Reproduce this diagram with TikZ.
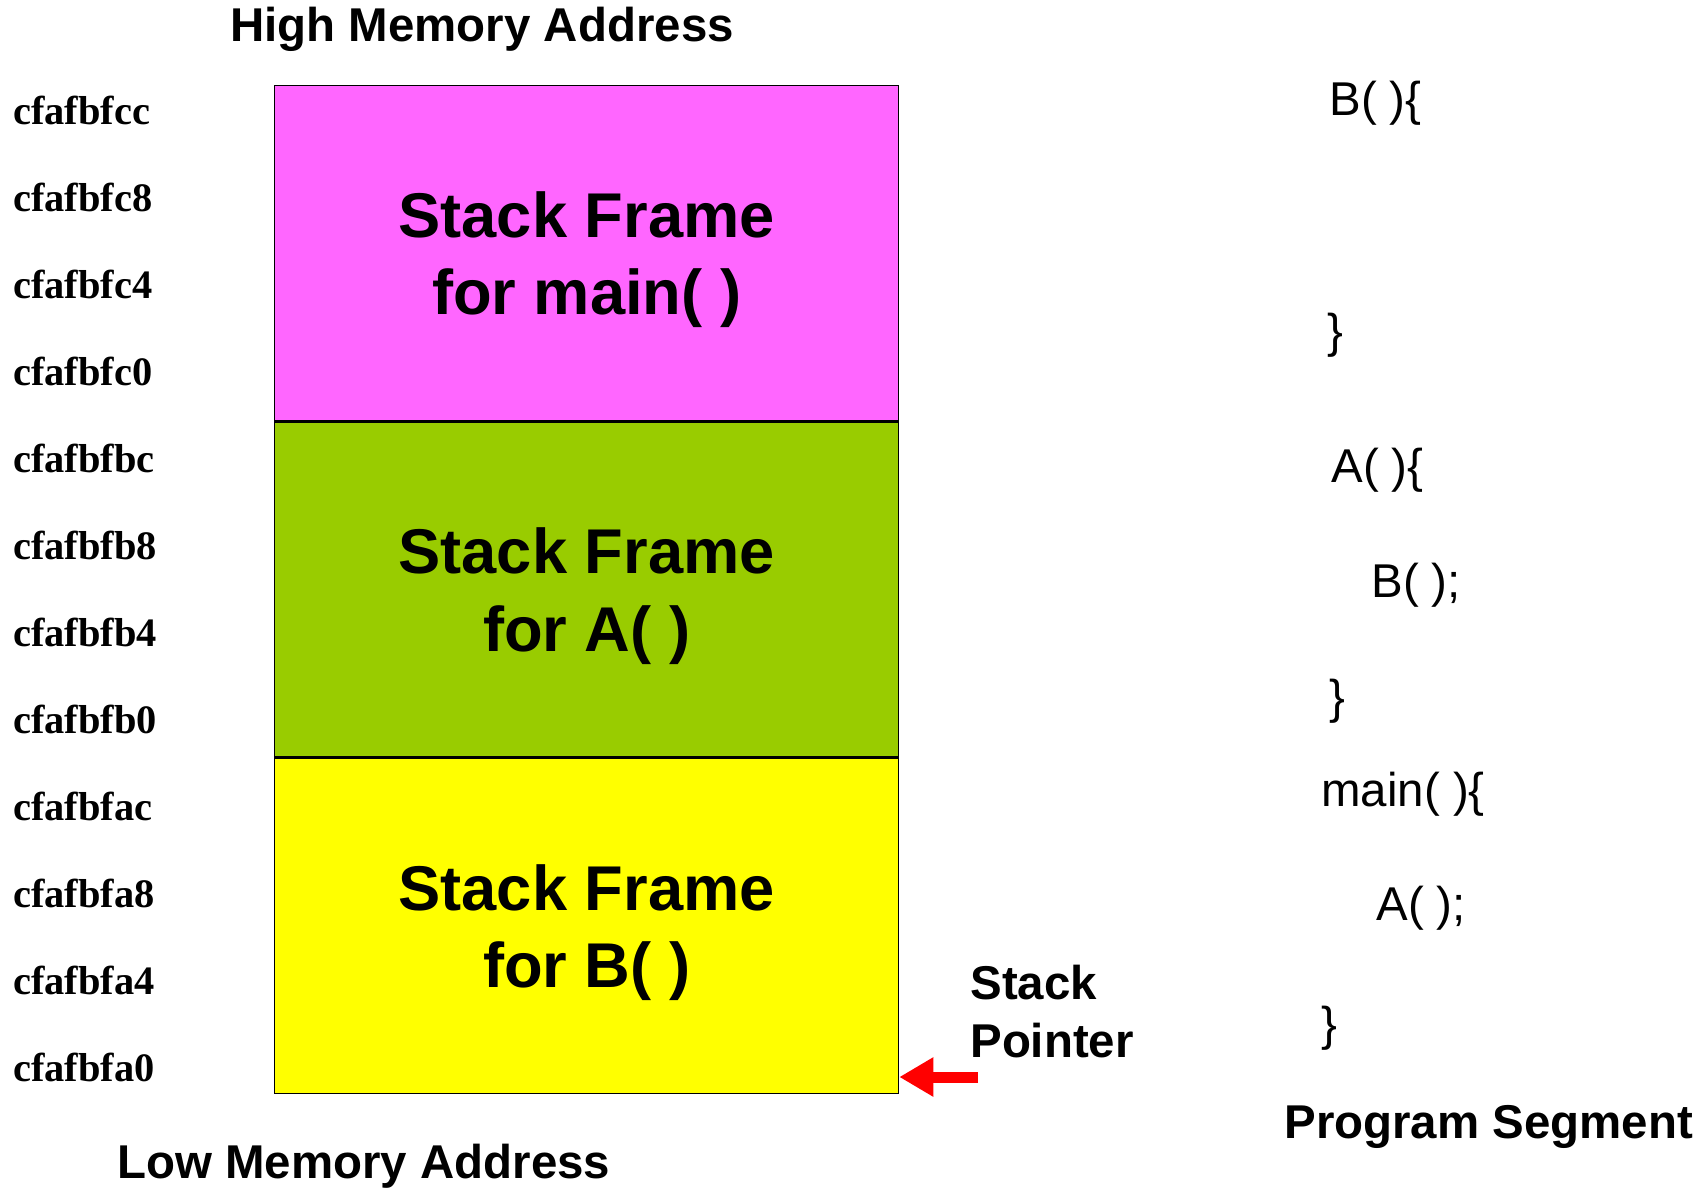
\documentclass[tikz,border=0pt]{standalone}
\usepackage{fontspec}
\setmainfont{Liberation Sans}
\newfontfamily\addrfont{Liberation Serif}
\usetikzlibrary{positioning, arrows.meta}

\definecolor{mainpink}{HTML}{FF66FF}
\definecolor{agreen}{HTML}{99CC00}
\definecolor{byellow}{HTML}{FFFF00}

\begin{document}
\begin{tikzpicture}[
    x=0.02cm, y=-0.02cm,
    stackframe/.style={draw, line width=0.8pt, minimum width=12.48cm, minimum height=6.70cm, text depth=0pt, align=center, inner sep=0pt, font=\fontsize{36}{44}\selectfont\bfseries},
    addr/.style={anchor=west, inner sep=0pt, font=\addrfont\fontsize{23}{27}\selectfont\bfseries},
    heading/.style={anchor=west, inner sep=0pt, font=\fontsize{27}{33}\selectfont\bfseries},
    codeline/.style={anchor=west, inner sep=0pt, font=\fontsize{27}{33}\selectfont},
    sparrow/.style={-{Triangle[length=0.68cm, width=0.74cm]}, red, line width=0.22cm},
]
\useasboundingbox (0,0) rectangle (1705,1188);

% Stack frames
\node[stackframe, fill=mainpink, anchor=north west] (frameMain) at (274,85) {Stack Frame\\for main( )};
\node[stackframe, fill=agreen, below=0pt of frameMain] (frameA) {Stack Frame\\for A( )};
\node[stackframe, fill=byellow, below=0pt of frameA] (frameB) {Stack Frame\\for B( )};

% Addresses
\foreach \hex [count=\i from 0] in {cfafbfcc, cfafbfc8, cfafbfc4, cfafbfc0, cfafbfbc, cfafbfb8, cfafbfb4, cfafbfb0, cfafbfac, cfafbfa8, cfafbfa4, cfafbfa0}
  \node[addr] (addr\i) at (13, 110+87*\i) {\hex};

% Headings
\node[heading] (highAddr) at (230,29) {High Memory Address};
\node[heading] (lowAddr) at (117,1166) {Low Memory Address};
\node[heading] (progSeg) at (1284,1127) {Program Segment};
\node[heading, align=left] (spLabel) at (970,1012) {Stack\\Pointer};

% Program segment
\node[codeline] (bHead) at (1329,103) {B( )\{};
\node[codeline] (bEnd) at (1327,335) {\}};
\node[codeline] (aHead) at (1331,470) {A( )\{};
\node[codeline] (aCall) at (1371,585) {B( );};
\node[codeline] (aEnd) at (1329,701) {\}};
\node[codeline] (mainHead) at (1321,794) {main( )\{};
\node[codeline] (mainCall) at (1376,908) {A( );};
\node[codeline] (mainEnd) at (1321,1028) {\}};

% Stack pointer
\coordinate (spTail) at (978,1077);
\draw[sparrow] (spTail) -- (spTail -| frameB.east);

\end{tikzpicture}
\end{document}
